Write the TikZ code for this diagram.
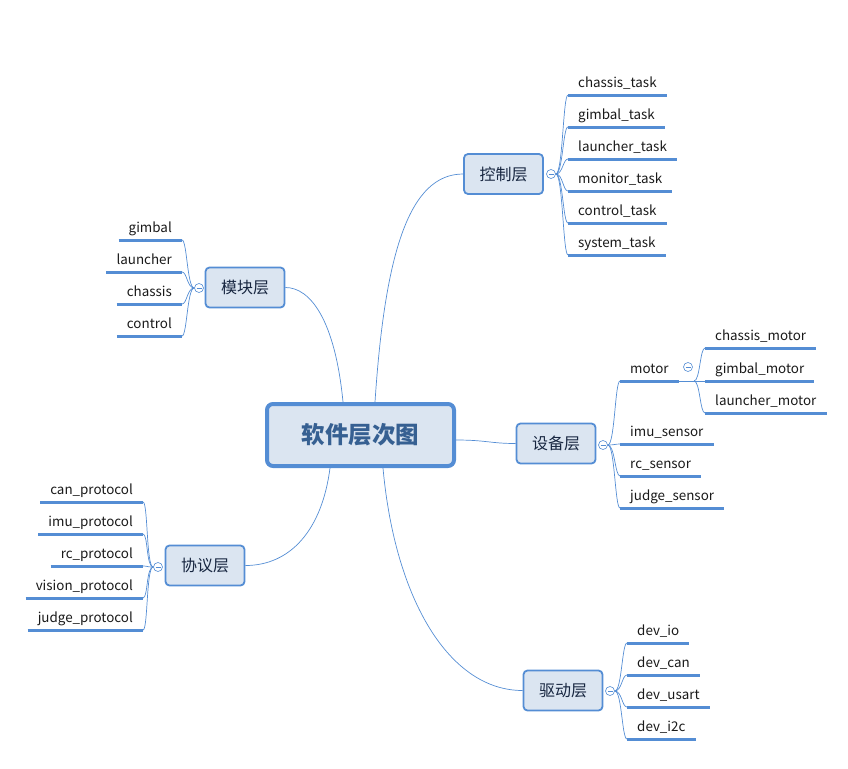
\documentclass[tikz,border=0pt]{standalone}
\usepackage{fontspec}
\setmainfont{Noto Sans CJK SC}
\definecolor{mapblue}{RGB}{84,141,212}
\definecolor{mapfill}{RGB}{219,229,241}
\definecolor{roottext}{RGB}{54,96,146}
\definecolor{topictext}{RGB}{23,38,64}
\begin{document}
\begin{tikzpicture}[x=1pt,y=-1pt]
                \tikzset{rootbox/.style={draw=mapblue, line width=4pt, fill=mapfill, rounded corners=6pt, minimum width=187pt, minimum height=62pt, font=\fontsize{23.5}{26}\selectfont\bfseries, text=roottext}}
                \tikzset{topicbox/.style={draw=mapblue, line width=1.8pt, fill=mapfill, rounded corners=4pt, minimum width=79pt, minimum height=40pt, font=\fontsize{16}{18}\selectfont, text=topictext}}
                \tikzset{underbar/.style={mapblue, line width=3pt}}
                \tikzset{leaf/.style={inner xsep=10pt, inner ysep=4pt, text height=10pt, text depth=3pt, text=black!90, font=\fontsize{13.4}{15}\selectfont}}
                \tikzset{rleaf/.style={leaf, anchor=south west}}
                \tikzset{lleaf/.style={leaf, anchor=south east}}
                \tikzset{link/.style={draw=mapblue, line width=0.7pt}}
                \tikzset{fold/.style={circle, draw=mapblue, fill=white, line width=0.6pt, minimum size=9pt, inner sep=0pt, path picture={\draw[mapblue, line width=0.6pt] ([xshift=-2.5pt]path picture bounding box.center) -- ([xshift=2.5pt]path picture bounding box.center);}}}
                \useasboundingbox (0,0) rectangle (848,768);
                \node[rootbox] (root) at (360.5,435) {软件层次图};
                \node[topicbox] (kz) at (503.5,174) {控制层};
                \node[topicbox] (mk) at (245,287.5) {模块层};
                \node[topicbox] (sb) at (556,443.5) {设备层};
                \node[topicbox] (xy) at (205,565.5) {协议层};
                \node[topicbox] (qd) at (563,690.5) {驱动层};
                \draw[link] ([xshift=14.5pt]root.north) .. controls +(10,-152) and +(-53,0) .. (kz.west);
                \draw[link] ([xshift=-17.5pt]root.north) .. controls +(-8,-82) and +(25,0) .. (mk.east);
                \draw[link] ([yshift=-5pt]root.east) .. controls +(30,0) and +(-25,0) .. (sb.west);
                \draw[link] ([xshift=-30.5pt]root.south) .. controls +(-8,62) and +(45,0) .. (xy.east);
                \draw[link] ([xshift=22.5pt]root.south) .. controls +(12,132) and +(-73,0) .. (qd.west);
                \node[fold] (kzf) at (551,174) {};
                \node[fold] (mkf) at (199,288) {};
                \node[fold] (sbf) at (603,445) {};
                \node[fold] (xyf) at (158,567) {};
                \node[fold] (qdf) at (610,691) {};
                \foreach \t/\y [count=\i] in {chassis\_task/95, gimbal\_task/127, launcher\_task/159, monitor\_task/191, control\_task/223, system\_task/255} {
                    \node[rleaf] (kz\i) at (568,\y) {\t};
                    \draw[underbar] (kz\i.south west) -- (kz\i.south east);
                    \draw[link] (kzf.east) .. controls +(7,0) and +(-5,0) .. (kz\i.south west);
                }
                \foreach \t/\y [count=\i] in {gimbal/240, launcher/272, chassis/304, control/336} {
                    \node[lleaf] (mk\i) at (182,\y) {\t};
                    \draw[underbar] (mk\i.south west) -- (mk\i.south east);
                    \draw[link] (mkf.west) .. controls +(-7,0) and +(5,0) .. (mk\i.south east);
                }
                \foreach \t/\y [count=\i] in {motor/381, imu\_sensor/444, rc\_sensor/476, judge\_sensor/508} {
                    \node[rleaf] (sb\i) at (620,\y) {\t};
                    \draw[underbar] (sb\i.south west) -- (sb\i.south east);
                    \draw[link] (sbf.east) .. controls +(7,0) and +(-5,0) .. (sb\i.south west);
                }
                \foreach \t/\y [count=\i] in {can\_protocol/502, imu\_protocol/534, rc\_protocol/566, vision\_protocol/598, judge\_protocol/630} {
                    \node[lleaf] (xy\i) at (143,\y) {\t};
                    \draw[underbar] (xy\i.south west) -- (xy\i.south east);
                    \draw[link] (xyf.west) .. controls +(-7,0) and +(5,0) .. (xy\i.south east);
                }
                \foreach \t/\y [count=\i] in {dev\_io/643, dev\_can/675, dev\_usart/707, dev\_i2c/739} {
                    \node[rleaf] (qd\i) at (627,\y) {\t};
                    \draw[underbar] (qd\i.south west) -- (qd\i.south east);
                    \draw[link] (qdf.east) .. controls +(7,0) and +(-5,0) .. (qd\i.south west);
                }
                \foreach \t/\y [count=\i] in {chassis\_motor/348, gimbal\_motor/381, launcher\_motor/413} {
                    \node[rleaf] (mo\i) at (705,\y) {\t};
                    \draw[underbar] (mo\i.south west) -- (mo\i.south east);
                }
                \coordinate (moj) at (694,381);
                \draw[link] (sb1.south east) -- (mo2.south west);
                \draw[link] (moj) .. controls +(6,0) and +(-5,0) .. (mo1.south west);
                \draw[link] (moj) .. controls +(6,0) and +(-5,0) .. (mo3.south west);
                \node[fold] (mof) at (688,367) {};
            \end{tikzpicture}
\end{document}
